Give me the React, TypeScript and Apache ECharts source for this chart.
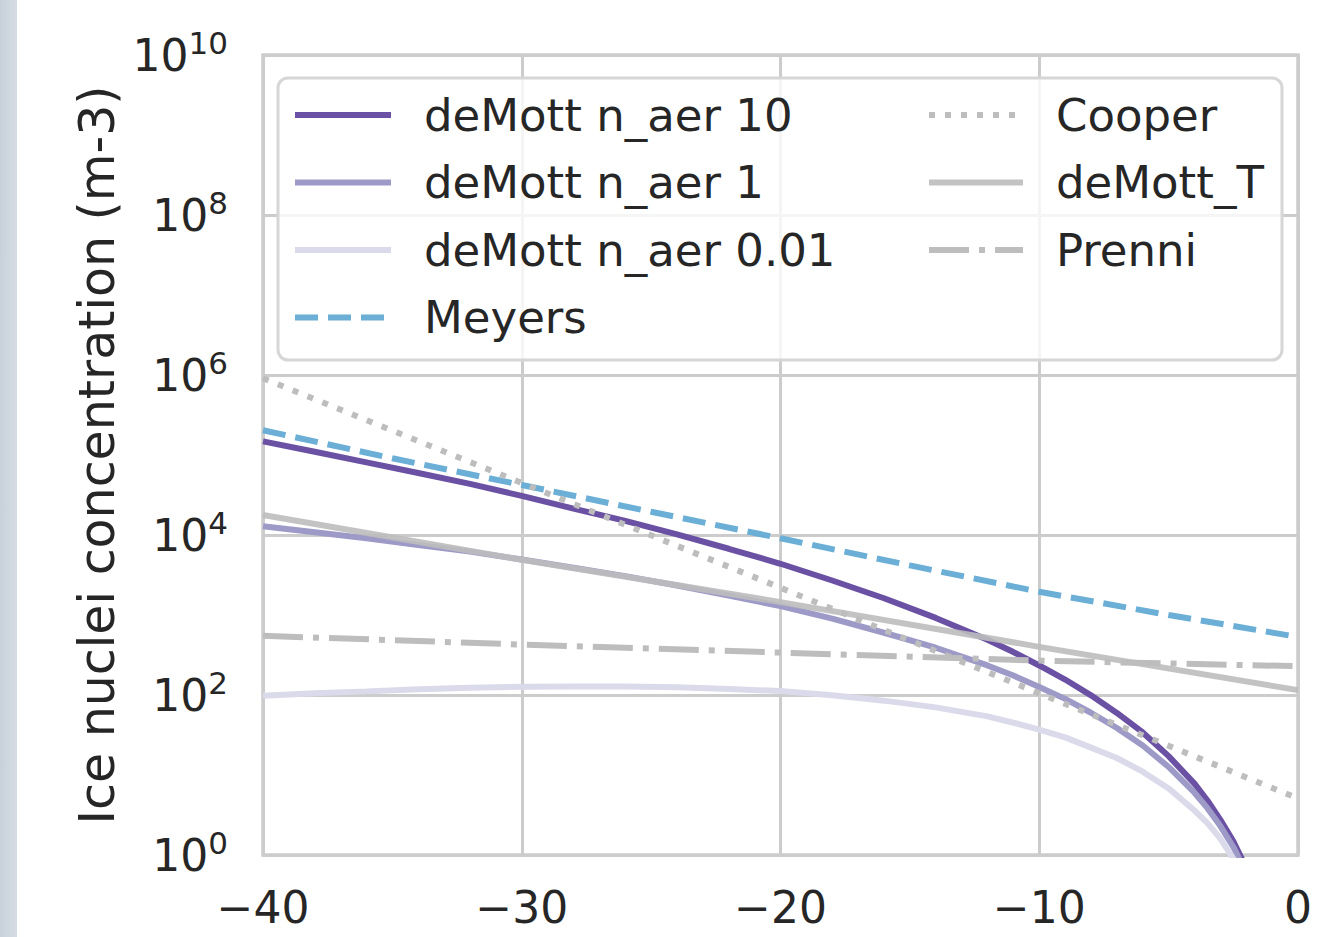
import React, { useEffect, useRef } from "react";
import * as echarts from "echarts";

const FONT = "DejaVu Sans";
const TEXT = "#262626";
const GRID = "#cccccc";

// Temperatures (°C) and concentrations (m-3)
const tempDeMott = [-40, -38, -36, -34, -32, -30, -28, -26, -24, -22, -20, -18, -16, -14, -12, -11, -10, -9, -8, -7, -6, -5, -4, -3.5, -3, -2.5, -2];
const deMott10 = [148000, 110000, 81000, 59600, 43600, 30800, 21400, 15000, 10200, 6730, 4370, 2700, 1620, 920, 490, 344, 234, 156, 99, 59.7, 34, 17.2, 7.8, 4.8, 2.75, 1.48, 0.69];
const deMott1 = [12900, 10840, 9100, 7480, 6200, 4930, 3900, 3060, 2340, 1755, 1290, 900, 600, 390, 234, 175, 126, 89.5, 60, 38.7, 23.4, 12.6, 6.0, 3.85, 2.3, 1.26, 0.6];
const deMott001 = [98, 105, 111, 118, 123, 127, 128, 128, 125, 119, 112, 99, 85, 70, 54, 45, 37, 29.5, 22, 16.3, 11, 6.8, 3.6, 2.5, 1.6, 0.9, 0.47];

const tempMeyers = [-40, -35, -30, -25, -20, -15, -10, -5, 0];
const meyers = [204000, 91000, 42200, 19500, 9100, 4170, 1950, 1000, 531];

const tempLinear = [-40, -30, -20, -10, 0];
const cooper = [912000, 44700, 2190, 105, 5.1];
const deMottT = [17800, 4900, 1450, 400, 115];
const prenni = [550, 427, 339, 269, 229];

const xTicks = [-40, -30, -20, -10, 0];
const yTicks = [1, 1e2, 1e4, 1e6, 1e8, 1e10];

const leftNames = ["deMott n_aer 10", "deMott n_aer 1", "deMott n_aer 0.01", "Meyers"];
const rightNames = ["Cooper", "deMott_T", "Prenni"];

function pairs(xs: number[], ys: number[]) {
  return xs.map((x, i) => [x, ys[i]]);
}

function line(name: string, xs: number[], ys: number[], color: string, type: any, opacity = 1) {
  return {
    name,
    type: "line",
    data: pairs(xs, ys),
    symbol: "none",
    showSymbol: false,
    clip: true,
    itemStyle: { color },
    lineStyle: { color, width: 6, type, cap: "butt", opacity },
  };
}

export default function App() {
  const ref = useRef<HTMLDivElement>(null);
  useEffect(() => {
    if (!ref.current) return;
    const chart = echarts.init(ref.current, undefined, { renderer: "svg" });
    const legendCommon = {
      orient: "vertical",
      top: 91,
      padding: 0,
      itemHeight: 20,
      itemGap: 19.5,
      selectedMode: false,
      itemStyle: { opacity: 0 },
      lineStyle: { width: 6 },
      formatter: (n: string) => `{g| }${n}`,
      textStyle: {
        fontFamily: FONT,
        fontSize: 45,
        color: TEXT,
        lineHeight: 48,
        rich: { g: { width: 28, fontSize: 45, lineHeight: 48 } },
      },
    };
    chart.setOption({
      animation: false,
      backgroundColor: "#ffffff",
      textStyle: { fontFamily: FONT },
      grid: {
        left: 263,
        right: 32,
        top: 55,
        bottom: 82,
        containLabel: false,
        outerBoundsMode: "none",
        show: true,
        borderColor: GRID,
        borderWidth: 3.5,
        backgroundColor: "transparent",
      },
      xAxis: {
        type: "value",
        min: xTicks[0],
        max: xTicks[xTicks.length - 1],
        interval: 10,
        axisLine: { show: false },
        axisTick: { show: false },
        splitLine: { show: true, lineStyle: { color: GRID, width: 3 } },
        axisLabel: {
          margin: 30,
          fontFamily: FONT,
          fontSize: 44,
          lineHeight: 44,
          color: TEXT,
          formatter: (v: number) => (v < 0 ? "\u2212" + Math.abs(v) : String(v)),
        },
      },
      yAxis: {
        type: "log",
        logBase: 10,
        min: yTicks[0],
        max: yTicks[yTicks.length - 1],
        axisLine: { show: false },
        axisTick: { show: false, customValues: yTicks },
        splitLine: { show: true, lineStyle: { color: GRID, width: 3 } },
        axisLabel: {
          margin: 35,
          color: TEXT,
          customValues: yTicks,
          formatter: (v: number) => `{b|10}{s|${Math.round(Math.log10(v))}}`,
          rich: {
            b: { fontFamily: FONT, fontSize: 44, lineHeight: 56, color: TEXT },
            s: { fontFamily: FONT, fontSize: 31, lineHeight: 31, color: TEXT, verticalAlign: "top" },
          },
        },
        name: "Ice nuclei concentration (m-3)",
        nameLocation: "middle",
        nameGap: 140,
        nameTextStyle: { fontFamily: FONT, fontSize: 49, color: TEXT },
      },
      legend: [
        { ...legendCommon, data: leftNames, left: 292, itemWidth: 96 },
        { ...legendCommon, data: rightNames, left: 926, itemWidth: 94 },
      ],
      graphic: [
        {
          type: "rect",
          shape: { x: 0, y: 0, width: 17, height: 937 },
          style: {
            fill: new echarts.graphic.LinearGradient(0, 0, 1, 0, [
              { offset: 0, color: "#c8d1db" },
              { offset: 1, color: "#d5dce3" },
            ]),
          },
          z: 10,
        },
        {
          type: "rect",
          shape: { x: 278, y: 78, width: 1004, height: 282, r: 10 },
          style: { fill: "rgba(255,255,255,0.8)", stroke: "#d6d6d6", lineWidth: 3 },
          z: 3,
        },
      ],
      series: [
        line("deMott n_aer 10", tempDeMott, deMott10, "#6a51a3", "solid"),
        line("deMott n_aer 1", tempDeMott, deMott1, "#9e9ac8", "solid"),
        line("deMott n_aer 0.01", tempDeMott, deMott001, "#dadaeb", "solid"),
        line("Meyers", tempMeyers, meyers, "#6baed6", [23, 10]),
        line("Cooper", tempLinear, cooper, "#bdbdbd", [6, 10]),
        line("deMott_T", tempLinear, deMottT, "#bdbdbd", "solid", 0.9),
        line("Prenni", tempLinear, prenni, "#bdbdbd", [40, 10, 6, 10]),
      ],
    });
    return () => chart.dispose();
  }, []);
  return (
    <div
      ref={ref}
      style={{ position: "fixed", left: 0, top: 0, width: 1330, height: 937, background: "#fff" }}
    />
  );
}
